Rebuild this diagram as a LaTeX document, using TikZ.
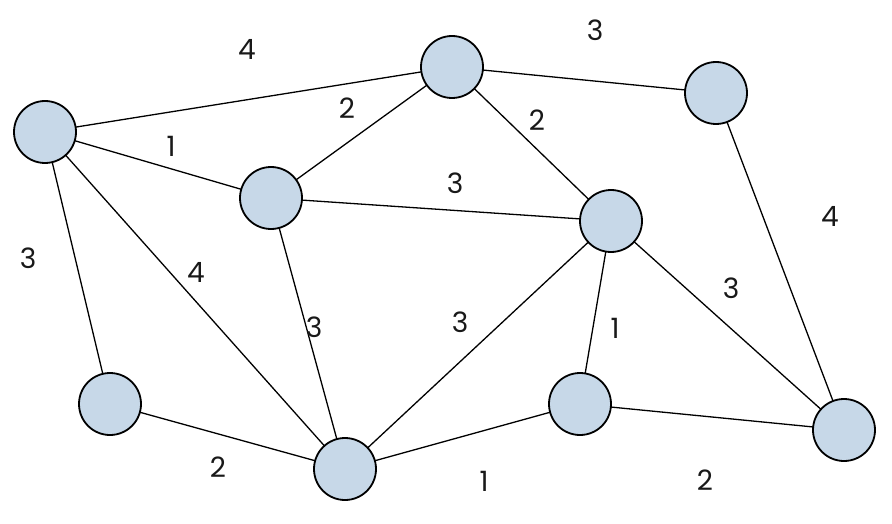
\documentclass[tikz,border=0pt]{standalone}
\usepackage{fontspec}
\setmainfont{Poppins}
\definecolor{nodefill}{RGB}{199,216,232}
\tikzset{
  vert/.style={circle, draw=black, line width=1.8pt, fill=nodefill, minimum size=62pt, inner sep=0pt},
  edge/.style={line width=1.3pt, black},
  wlabel/.style={font=\fontsize{28}{28}\selectfont, text=black!90, inner sep=0pt}
}
\begin{document}
\begin{tikzpicture}[x=1pt,y=-1pt]
\useasboundingbox (0,0) rectangle (892,524);
\fill[white] (0,0) rectangle (892,524);
\coordinate (pA) at (45,132);
\coordinate (pB) at (452,67);
\coordinate (pC) at (716,93);
\coordinate (pD) at (271,198);
\coordinate (pE) at (611,221);
\coordinate (pF) at (110,404);
\coordinate (pG) at (345,469);
\coordinate (pH) at (580,404);
\coordinate (pI) at (844,430);
\draw[edge] (pA) -- (pB);
\draw[edge] (pB) -- (pC);
\draw[edge] (pA) -- (pD);
\draw[edge] (pD) -- (pB);
\draw[edge] (pB) -- (pE);
\draw[edge] (pD) -- (pE);
\draw[edge] (pC) -- (pI);
\draw[edge] (pA) -- (pF);
\draw[edge] (pA) -- (pG);
\draw[edge] (pD) -- (pG);
\draw[edge] (pG) -- (pE);
\draw[edge] (pE) -- (pH);
\draw[edge] (pE) -- (pI);
\draw[edge] (pF) -- (pG);
\draw[edge] (pG) -- (pH);
\draw[edge] (pH) -- (pI);
\node[vert] (A) at (pA) {};
\node[vert] (B) at (pB) {};
\node[vert] (C) at (pC) {};
\node[vert] (D) at (pD) {};
\node[vert] (E) at (pE) {};
\node[vert] (F) at (pF) {};
\node[vert] (G) at (pG) {};
\node[vert] (H) at (pH) {};
\node[vert] (I) at (pI) {};
\node[wlabel] (lAB) at (247,49) {4};
\node[wlabel] (lBC) at (595,30) {3};
\node[wlabel] (lAD) at (171,146) {1};
\node[wlabel] (lDB) at (347,108) {2};
\node[wlabel] (lBE) at (537,120) {2};
\node[wlabel] (lDE) at (455,183) {3};
\node[wlabel] (lCI) at (830,216) {4};
\node[wlabel] (lAF) at (28,258) {3};
\node[wlabel] (lAG) at (196,272) {4};
\node[wlabel] (lDG) at (314,327) {3};
\node[wlabel] (lGE) at (460,322) {3};
\node[wlabel] (lEH) at (615,328) {1};
\node[wlabel] (lEI) at (731,288) {3};
\node[wlabel] (lFG) at (218,467) {2};
\node[wlabel] (lGH) at (484,481) {1};
\node[wlabel] (lHI) at (705,480) {2};
\end{tikzpicture}
\end{document}
